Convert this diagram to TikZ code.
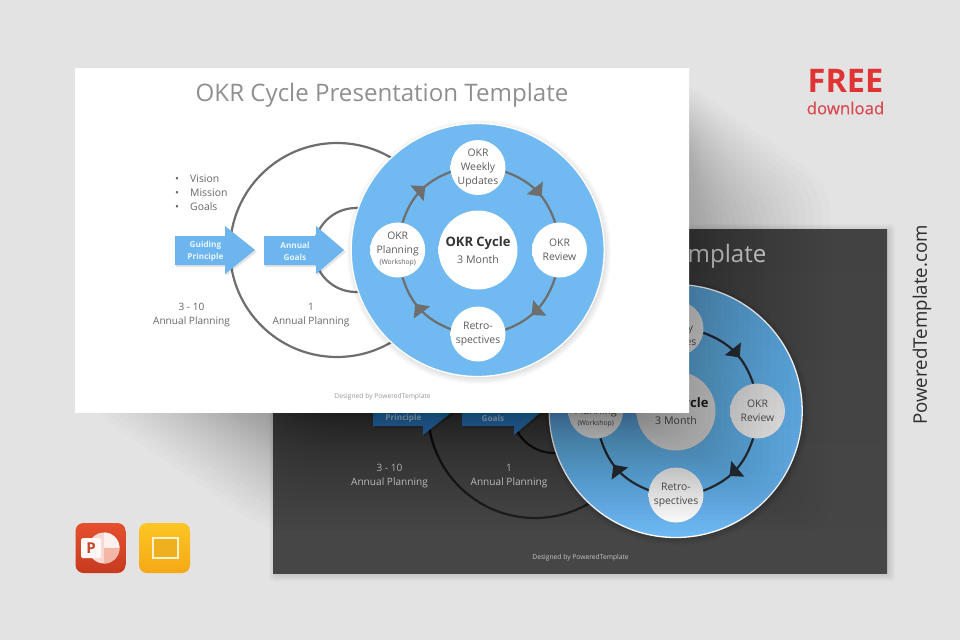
\documentclass[tikz,border=0pt]{standalone}
\usepackage{fontspec}
\setmainfont{Open Sans}
\newfontfamily\semifont[FakeBold=0.35]{Open Sans}
\usetikzlibrary{arrows.meta,decorations.markings,shapes.geometric}
\definecolor{pagebg}{HTML}{E3E3E3}
\newcommand{\fs}[2]{\fontsize{#1}{#2}\selectfont}
\tikzset{
  x=1pt,y=-1pt,
  slidebox/.style={rectangle,inner sep=0,minimum width=614pt,minimum height=344pt,draw=none},
  smallcirc/.style={circle,inner sep=0,minimum size=55pt,draw=none},
  centercirc/.style={circle,inner sep=0,minimum size=79pt,top color=\midtop,bottom color=\midbot,draw=none},
  bigring/.style={circle,inner sep=0,draw=ringcol,line width=2.2pt,fill=none},
  cyc/.style={draw=cyccol,line width=2.2pt,bend left=25.7,postaction={decorate},
    decoration={markings,mark=at position .6 with {\arrow[cyccol]{Triangle[length=11pt,width=20pt]}}}},
  bodytxt/.style={inner sep=0,align=center,text=txtcol,font=\fs{10.4}{14}},
  labeltxt/.style={inner sep=0,align=center,text=lblcol,font=\fs{10.1}{14}},
  arrowtxt/.style={inner sep=0,align=center,text=arrowtxtcol,font=\bfseries\fs{8.2}{12.5}},
}
% one slide: prefix, x shift, y shift
\newcommand{\okrslide}[3]{%
\begin{scope}[shift={(#2,#3)}]
  \node[slidebox,top color=slidetop,bottom color=slidebot] (#1slide) at (382,240) {};
  \node[inner sep=0,text=titlecol,font=\fs{24.1}{30}] (#1title) at (382,95) {OKR Cycle Presentation Template};
  \node[bigring,minimum size=214pt] (#1outer) at (337,250) {};
  \node[bigring,minimum size=84pt] (#1inner) at (356,250) {};
  % bullets
  \node[anchor=base west,inner sep=0,text=lblcol,font=\fs{10.4}{14}] (#1vision) at (175,182) {\makebox[15pt][l]{•}Vision};
  \node[anchor=base west,inner sep=0,text=lblcol,font=\fs{10.4}{14}] (#1mission) at (175,196) {\makebox[15pt][l]{•}Mission};
  \node[anchor=base west,inner sep=0,text=lblcol,font=\fs{10.4}{14}] (#1goals) at (175,210) {\makebox[15pt][l]{•}Goals};
  % block arrows
  \foreach \ox/\hx/\tx in {175/225/255,264/316/344}{
    \fill[black,opacity=.10] (\ox+1,238) -- (\hx+1,238) -- (\hx+1,228) -- (\tx+2,252) -- (\hx+1,276) -- (\hx+1,267) -- (\ox+1,267) -- cycle;
    \fill[arrowfill] (\ox,236) -- (\hx,236) -- (\hx,226) -- (\tx,250) -- (\hx,274) -- (\hx,265) -- (\ox,265) -- cycle;
  }
  \node[arrowtxt] (#1guiding) at (205.5,251.2) {Guiding\\Principle};
  \node[arrowtxt] (#1annual) at (295,251.2) {Annual\\Goals};
  \node[labeltxt] (#1lblA) at (191.5,315.5) {3 - 10\\Annual Planning};
  \node[labeltxt] (#1lblB) at (311,315.5) {1\\Annual Planning};
  % big blue disc
  \foreach \i in {1,...,6}{\fill[black,opacity=.02] (479,252) circle[radius=125+\i*1.2];}
  \node[circle,inner sep=0,minimum size=253pt,top color=disctop,bottom color=discbot,draw=white,line width=1.3pt] (#1disc) at (477.7,250) {};
  \node[smallcirc,top color=\toptop,bottom color=\topbot] (#1upd) at (478,167.5) {};
  \node[smallcirc,top color=\sidetop,bottom color=\sidebot] (#1rev) at (559.5,250) {};
  \node[smallcirc,top color=\bottop,bottom color=\botbot] (#1ret) at (478,334) {};
  \node[smallcirc,top color=\sidetop,bottom color=\sidebot] (#1pla) at (397.7,250) {};
  \node[centercirc] (#1mid) at (478,250) {};
  \draw[cyc] (#1upd.-9.6) to (#1rev.99.6);
  \draw[cyc] (#1rev.-99.6) to (#1ret.9.6);
  \draw[cyc] (#1ret.170.4) to (#1pla.-80.4);
  \draw[cyc] (#1pla.80.4) to (#1upd.189.6);
  \node[bodytxt] (#1updt) at (#1upd) {OKR\\Weekly\\Updates};
  \node[bodytxt] (#1revt) at (#1rev) {OKR\\Review};
  \node[bodytxt] (#1rett) at (#1ret) {Retro-\\spectives};
  \node[inner sep=0,align=center,text=txtcol,font=\fs{10.4}{14}] (#1plat) at (397.7,244) {OKR\\Planning};
  \node[inner sep=0,text=txtcol,font=\fs{6.8}{9}] (#1plas) at (397.7,263) {(Workshop)};
  \node[inner sep=0,text=midcol,font=\bfseries\fs{13}{16}] (#1midt) at (478,243.5) {OKR Cycle};
  \node[inner sep=0,text=txtcol,font=\fs{10.6}{14}] (#1mids) at (478,260) {3 Month};
  \node[inner sep=0,text=credcol,font=\fs{6.7}{9}] (#1cred) at (382.5,397) {Designed by PoweredTemplate};
\end{scope}}
\begin{document}
\begin{tikzpicture}
\useasboundingbox (0,0) rectangle (960,640);
\fill[pagebg] (0,0) rectangle (960,640);
% dark slide soft shadow
\foreach \i in {1,...,7}{\fill[black,opacity=.014,rounded corners=3pt] (273-\i+3,228-\i+3) rectangle (887+\i+1,573+\i+1);}
% dark slide
\definecolor{slidetop}{HTML}{424242}\definecolor{slidebot}{HTML}{464646}
\definecolor{titlecol}{HTML}{DADADA}\definecolor{ringcol}{HTML}{202020}
\definecolor{lblcol}{HTML}{DCDCDC}\definecolor{txtcol}{HTML}{555555}\definecolor{midcol}{HTML}{262626}
\definecolor{cyccol}{HTML}{2C3238}
\definecolor{arrowfill}{HTML}{3A85C4}
\definecolor{arrowtxtcol}{HTML}{B4D6EE}
\definecolor{disctop}{HTML}{5BA2DC}\definecolor{discbot}{HTML}{6DB8F2}
\definecolor{credcol}{HTML}{C4C4C4}
\def\midtop{black!14}\def\midbot{black!12}
\def\toptop{black!14}\def\topbot{black!10}
\def\sidetop{black!12}\def\sidebot{black!7}
\def\bottop{black!7}\def\botbot{white}
\okrslide{d}{198}{161}
% shadow of the white slide, cast on everything below it
\foreach \i in {0,...,44}{
  \pgfmathsetmacro{\t}{1-(1-\i/44)^1.9}
  \pgfmathsetmacro{\ay}{78+\t*80}
  \pgfmathsetmacro{\xr}{830-\t*190}
  \pgfmathsetmacro{\by}{185+\t*60}
  \pgfmathsetmacro{\yb}{530-\t*118}
  \pgfmathsetmacro{\dx}{265+\t*60}
  \pgfmathsetmacro{\ex}{85+\t*205}
  \fill[black,opacity=.0125,rounded corners=25pt] (680,\ay) -- (\xr,\by) -- (\xr,\yb) -- (\dx,\yb) -- (\ex,405) -- cycle;
}
% white slide
\definecolor{slidetop}{HTML}{FFFFFF}\definecolor{slidebot}{HTML}{FFFFFF}
\definecolor{titlecol}{HTML}{8F8F8F}\definecolor{ringcol}{HTML}{6E6E6E}
\definecolor{lblcol}{HTML}{666666}\definecolor{txtcol}{HTML}{5C5C5C}\definecolor{midcol}{HTML}{333333}
\definecolor{cyccol}{HTML}{6E6E6E}
\definecolor{arrowfill}{HTML}{6CB5EE}
\definecolor{arrowtxtcol}{HTML}{EAF5FD}
\definecolor{disctop}{HTML}{71B9F1}\definecolor{discbot}{HTML}{71B9F1}
\definecolor{credcol}{HTML}{999999}
\def\midtop{white}\def\midbot{white}
\def\toptop{white}\def\topbot{white}
\def\sidetop{white}\def\sidebot{white}
\def\bottop{white}\def\botbot{white}
\okrslide{w}{0}{0}
% FREE download
\node[inner sep=0,text={rgb,255:red,224;green,52;blue,52},font=\bfseries\fs{32.5}{36}] (free) at (845.5,80.5) {FREE};
\node[inner sep=0,text={rgb,255:red,216;green,72;blue,78},font=\semifont\fs{16.8}{20}] (dl) at (845.5,108) {download};
% vertical brand
\node[inner sep=0,rotate=90,text=black!82,font=\fs{18.7}{22}] (brand) at (922,325) {PoweredTemplate.com};
% PowerPoint icon
\definecolor{pptA}{HTML}{E5502E}\definecolor{pptB}{HTML}{C63A1F}
\node[rectangle,rounded corners=8pt,minimum size=50pt,inner sep=0,top color=pptA,bottom color=pptB] (ppt) at (100.5,548) {};
\fill[white!78!pptA] (104,548) circle[radius=15.5pt];
\fill[white!92!pptA] (104,548) -- +(90:15.5pt) arc[start angle=90,end angle=0,radius=15.5pt] -- cycle;
\fill[white!58!pptA] (104,548) -- +(0:15.5pt) arc[start angle=0,end angle=-90,radius=15.5pt] -- cycle;
\node[rectangle,rounded corners=1.5pt,minimum size=20pt,inner sep=0,fill=white!96!pptA,text={rgb,255:red,200;green,70;blue,42},font=\bfseries\fs{15}{16}] (pptp) at (91,548) {P};
% Slides icon
\node[rectangle,rounded corners=8pt,minimum width=51pt,minimum height=50pt,inner sep=0,top color={rgb,255:red,252;green,198;blue,36},bottom color={rgb,255:red,246;green,168;blue,22}] (gs) at (164.5,548) {};
\node[rectangle,minimum width=25pt,minimum height=20pt,inner sep=0,draw={rgb,255:red,255;green,243;blue,205},line width=2.8pt,fill={rgb,255:red,238;green,176;blue,30}] (gsr) at (165.5,548) {};
\end{tikzpicture}
\end{document}
